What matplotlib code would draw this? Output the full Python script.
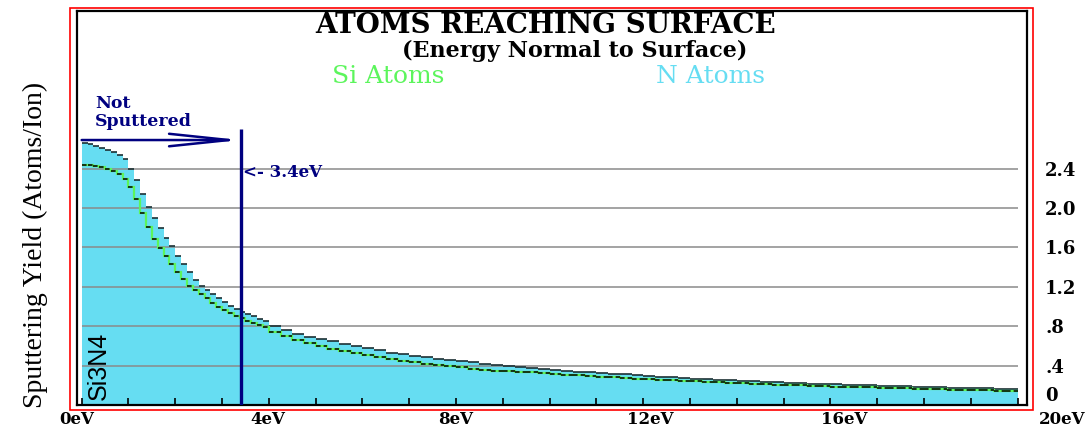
import numpy as np
import matplotlib
matplotlib.use("Agg")
import matplotlib.pyplot as plt
from matplotlib.patches import Rectangle

# energy bins (eV): finer below 4 eV, coarser in the tail
energy_edges = np.concatenate([np.arange(0, 4, 0.125), np.arange(4, 20.01, 0.25)])

# yields (atoms/ion) of atoms reaching the surface, one value per bin
n_yield = [2.66, 2.65, 2.63, 2.61, 2.59, 2.57, 2.54, 2.50, 2.40, 2.28,
           2.14, 2.01, 1.90, 1.80, 1.70, 1.61, 1.51, 1.43, 1.35, 1.27,
           1.21, 1.17, 1.13, 1.09, 1.05, 1.01, 0.97, 0.94, 0.92, 0.90,
           0.87, 0.85,
           0.80, 0.76, 0.72, 0.69,
           0.67, 0.65, 0.62, 0.60, 0.58, 0.56, 0.53, 0.52, 0.50, 0.49,
           0.47, 0.46, 0.45, 0.44, 0.42, 0.41, 0.40, 0.39, 0.38, 0.37,
           0.36, 0.35, 0.34, 0.33, 0.32, 0.315, 0.31, 0.30, 0.29, 0.285,
           0.28, 0.27, 0.265, 0.26, 0.255, 0.25, 0.245, 0.24, 0.235, 0.23,
           0.225, 0.22, 0.215, 0.21, 0.21, 0.205, 0.20, 0.20, 0.195, 0.19,
           0.19, 0.185, 0.18, 0.18, 0.175, 0.175, 0.17, 0.17, 0.165, 0.165]

si_yield = [2.44, 2.44, 2.43, 2.42, 2.40, 2.38, 2.35, 2.29, 2.21, 2.09,
            1.95, 1.81, 1.69, 1.59, 1.51, 1.43, 1.35, 1.28, 1.21, 1.17,
            1.13, 1.09, 1.04, 1.00, 0.96, 0.93, 0.90, 0.88, 0.85, 0.83,
            0.81, 0.79,
            0.74, 0.70, 0.66, 0.63,
            0.60, 0.57, 0.55, 0.53, 0.51, 0.49, 0.47, 0.45, 0.44, 0.42,
            0.41, 0.40, 0.39, 0.37, 0.36, 0.35, 0.345, 0.34, 0.33, 0.32,
            0.31, 0.305, 0.30, 0.29, 0.285, 0.28, 0.27, 0.265, 0.26, 0.255,
            0.25, 0.245, 0.24, 0.235, 0.23, 0.225, 0.22, 0.215, 0.21, 0.205,
            0.20, 0.20, 0.195, 0.19, 0.185, 0.185, 0.18, 0.18, 0.175, 0.17,
            0.17, 0.165, 0.16, 0.16, 0.155, 0.155, 0.15, 0.15, 0.145, 0.14]

cutoff_energy = 3.4
grid_values = [0.4, 0.8, 1.2, 1.6, 2.0, 2.4]
yield_ticks = [0, 0.4, 0.8, 1.2, 1.6, 2.0, 2.4]
yield_labels = ['0', '.4', '.8', '1.2', '1.6', '2.0', '2.4']
energy_labels = ['0eV', '4eV', '8eV', '12eV', '16eV', '20eV']
energy_label_pos = [-0.1, 3.97, 8.0, 12.15, 16.3, 20.95]

cyan = '#66ddf2'
green = '#5cf55c'
navy = '#000080'
serif = 'DejaVu Serif'

fig = plt.figure(figsize=(10.9, 4.28), dpi=100)
W, H = 1090, 428
ax = fig.add_axes([77 / W, (H - 405) / H, 950 / W, 394 / H])

ax.set_xlim(-0.1, 20.2)
ax.set_ylim(0, 4.0)

lefts = energy_edges[:-1]
rights = energy_edges[1:]

# histograms: filled N curve, Si curve as a green step line with dark dashes
ax.stairs(n_yield, energy_edges, fill=True, color=cyan, zorder=1)
for g in grid_values:
    ax.hlines(g, 0, 20, color='#8a8a8a', lw=1.1, zorder=2)
ax.hlines(n_yield, lefts, rights, color='#1c3034', lw=1.2, zorder=3)
ax.stairs(si_yield, energy_edges, baseline=None, color=green, lw=1.6, zorder=3)
ax.hlines(si_yield, lefts, rights, color='black', lw=1.1,
          linestyle=(0, (3, 2)), zorder=4)

# surface binding energy cutoff
ax.vlines(cutoff_energy, 0, 2.8, color=navy, lw=2.4, zorder=5)
ax.annotate('', xy=(cutoff_energy, 2.69), xytext=(0, 2.69),
            arrowprops=dict(arrowstyle='->, head_length=4.3, head_width=0.45',
                            color=navy, lw=1.8, mutation_scale=10, shrinkA=0, shrinkB=0),
            zorder=5)
ax.text(0.28, 3.15, 'Not\nSputtered', color=navy, fontsize=12.5, fontweight='bold',
        family=serif, va='top', ha='left', linespacing=1.1)
ax.text(cutoff_energy + 0.04, 2.36, '<- 3.4eV', color=navy, fontsize=12,
        fontweight='bold', family=serif, va='center', ha='left')

ax.text(0.12, 0.05, 'Si3N4', rotation=90, fontsize=18, family='Liberation Sans',
        va='bottom', ha='left', color='black', zorder=6)

# titles
ax.text(0.493, 0.962, 'ATOMS REACHING SURFACE', transform=ax.transAxes, ha='center',
        va='center', fontsize=20, fontweight='bold', family=serif)
ax.text(0.524, 0.898, '(Energy Normal to Surface)', transform=ax.transAxes, ha='center',
        va='center', fontsize=16, fontweight='bold', family=serif)
ax.text(0.328, 0.835, 'Si Atoms', transform=ax.transAxes, ha='center', va='center',
        fontsize=18, color=green, family=serif)
ax.text(0.667, 0.835, 'N Atoms', transform=ax.transAxes, ha='center', va='center',
        fontsize=18, color=cyan, family=serif)

# axes styling
for s in ax.spines.values():
    s.set_linewidth(1.6)
ax.set_xticks(range(0, 21), labels=[])
ax.tick_params(axis='x', direction='in', length=5, width=1.2)
for pos, lab in zip(energy_label_pos, energy_labels):
    ax.text(pos, -0.036, lab, transform=ax.get_xaxis_transform(), ha='center',
            va='center', fontsize=12, fontweight='bold', family=serif)

ax.yaxis.tick_right()
ax.set_yticks(yield_ticks, labels=yield_labels)
ax.tick_params(axis='y', length=0, pad=13)
for lab in ax.get_yticklabels():
    lab.set_fontfamily(serif)
    lab.set_fontweight('bold')
    lab.set_fontsize(13)
    lab.set_horizontalalignment('left')
ax.get_yticklabels()[0].set_verticalalignment('bottom')

fig.text(35 / W, 1 - 245 / H, 'Sputtering Yield (Atoms/Ion)', rotation=90,
         ha='center', va='center', fontsize=20, family='Liberation Serif')

# outer red frame
fig.patches.append(Rectangle((70 / W, (H - 410) / H), 963 / W, 402 / H,
                             transform=fig.transFigure, fill=False,
                             edgecolor='red', lw=1.2))

fig.savefig('out.png', dpi=100)
